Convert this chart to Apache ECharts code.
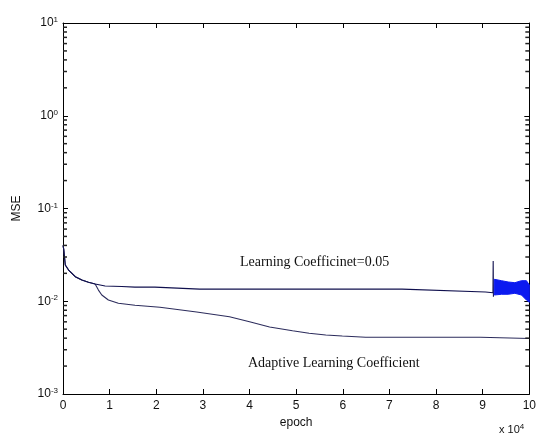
<!DOCTYPE html>
<html>
<head>
<meta charset="utf-8">
<script src="https://cdn.jsdelivr.net/npm/echarts@6/dist/echarts.min.js"></script>
<style>html,body{margin:0;padding:0;background:#fff}#c{width:539px;height:437px}</style>
</head>
<body>
<div id="c"></div>
<script>
// ---- data ----
const xTickLabels = ['0','1','2','3','4','5','6','7','8','9','10'];

const adaptEpoch = [0,170,490,1200,2630,4050,5460,6890,7600,8320,9730,11870,15430,20790,28660,35700,40000,44300,49220,52780,56350,59890,64890,89500,89600,100000];
const adaptMSE   = [0.040,0.036,0.0246,0.0217,0.0184,0.01695,0.016,0.01535,0.0132,0.01168,0.0103,0.0095,0.00904,0.00861,0.00766,0.00681,0.00602,0.00528,0.00481,0.00451,0.00433,0.00422,0.00409,0.00409,0.00397,0.00397];

const lrEpoch = [0,170,490,1200,2630,4050,5460,6890,9030,12590,15430,19700,19750,29300,72700,72750,90600,92200,92250,92300];
const lrMSE   = [0.040,0.036,0.0246,0.0217,0.0184,0.01695,0.016,0.01535,0.0146,0.0144,0.0142,0.0142,0.01366,0.0135,0.0135,0.0132,0.0126,0.01236,0.0272,0.0112];

const bandEpoch = [92490,94040,95470,96900,98310,99380,100000];
const bandHigh  = [0.01724,0.01666,0.01613,0.01585,0.01666,0.01666,0.01497];
const bandLow   = [0.01168,0.01189,0.01189,0.01218,0.01168,0.01031,0.00974];

const minorTickValues = [0.002,0.003,0.004,0.005,0.006,0.007,0.008,0.009,
                         0.02,0.03,0.04,0.05,0.06,0.07,0.08,0.09,
                         0.2,0.3,0.4,0.5,0.6,0.7,0.8,0.9,
                         2,3,4,5,6,7,8,9];

// ---- chart ----
const chart = echarts.init(document.getElementById('c'));
const FONT = 'Liberation Sans';
const AX = '#000';
const axisCommon = {
  axisLine:{show:true,onZero:false,lineStyle:{color:AX,width:1}},
  splitLine:{show:false}
};
const yLabelFmt = v => { const e = Math.round(Math.log10(v)); return '{b|10}{e|' + e + '}'; };
const yRich = { b:{fontSize:12,fontFamily:FONT,color:'#111',lineHeight:14}, e:{fontSize:8,fontFamily:FONT,color:'#111',verticalAlign:'top',lineHeight:8} };

const option = {
  backgroundColor:'#fff',
  animation:false,
  grid:{left:63,right:8,top:23,bottom:43,containLabel:false},
  xAxis:[
    Object.assign({type:'value',min:0,max:100000,interval:10000,position:'bottom',
      axisTick:{inside:true,length:5,lineStyle:{color:AX}},
      axisLabel:{formatter:(v)=>xTickLabels[Math.round(v/10000)],fontSize:12,fontFamily:FONT,color:'#111',margin:6},
      name:'epoch',nameLocation:'middle',nameGap:22,nameTextStyle:{fontSize:12,fontFamily:FONT,color:'#111'}},axisCommon),
    Object.assign({type:'value',min:0,max:100000,interval:10000,position:'top',
      axisTick:{inside:true,length:5,lineStyle:{color:AX}},axisLabel:{show:false}},axisCommon)
  ],
  yAxis:[
    Object.assign({type:'log',logBase:10,min:0.001,max:10,position:'left',
      axisTick:{inside:true,length:5,lineStyle:{color:AX}},
      axisLabel:{formatter:yLabelFmt,rich:yRich,margin:5},
      name:'MSE',nameLocation:'middle',nameGap:40,nameTextStyle:{fontSize:12,fontFamily:FONT,color:'#111'}},axisCommon),
    Object.assign({type:'log',logBase:10,min:0.001,max:10,position:'right',
      axisTick:{inside:true,length:5,lineStyle:{color:AX}},axisLabel:{show:false}},axisCommon)
  ],
  series:[
    {type:'line',name:'Adaptive',data:adaptEpoch.map((e,i)=>[e,adaptMSE[i]]),showSymbol:false,symbol:'none',
      lineStyle:{color:'#2c2c5c',width:1.1},z:3},
    {type:'line',name:'LR',data:lrEpoch.map((e,i)=>[e,lrMSE[i]]),showSymbol:false,symbol:'none',
      lineStyle:{color:'#10104e',width:1.1},z:4},
    {type:'custom',name:'band',data:bandEpoch.map((e,i)=>[e,bandLow[i],bandHigh[i]]),
      renderItem:(params,api)=>{
        if(params.dataIndex!==0) return null;
        const up = bandEpoch.map((e,i)=>api.coord([e,bandHigh[i]]));
        const lo = bandEpoch.map((e,i)=>api.coord([e,bandLow[i]])).reverse();
        return {type:'polygon',shape:{points:up.concat(lo)},style:{fill:'#0b1af0',stroke:'#0b1af0',lineWidth:1}};
      },z:5},
    {type:'scatter',name:'minorLeft',data:minorTickValues.map(v=>[0,v]),symbol:'rect',symbolSize:[4,1.5],symbolOffset:[2,0],
      itemStyle:{color:'#222',opacity:1},clip:false,silent:true,z:6},
    {type:'scatter',name:'minorRight',data:minorTickValues.map(v=>[100000,v]),symbol:'rect',symbolSize:[4,1.5],symbolOffset:[-2,0],
      itemStyle:{color:'#222',opacity:1},clip:false,silent:true,z:6}
  ],
  graphic:[
    {type:'text',left:240,top:255,style:{text:'Learning Coefficinet=0.05',font:'14px "Liberation Serif"',fill:'#111'}},
    {type:'text',left:248,top:356,style:{text:'Adaptive Learning Coefficient',font:'14px "Liberation Serif"',fill:'#111'}},
    {type:'text',left:499,top:423,style:{text:'{a|x 10}{e|4}',rich:{a:{fontSize:11,fontFamily:FONT,fill:'#111',lineHeight:14},e:{fontSize:8,fontFamily:FONT,fill:'#111',verticalAlign:'top',lineHeight:8}}}}
  ]
};
chart.setOption(option);
</script>
</body>
</html>
